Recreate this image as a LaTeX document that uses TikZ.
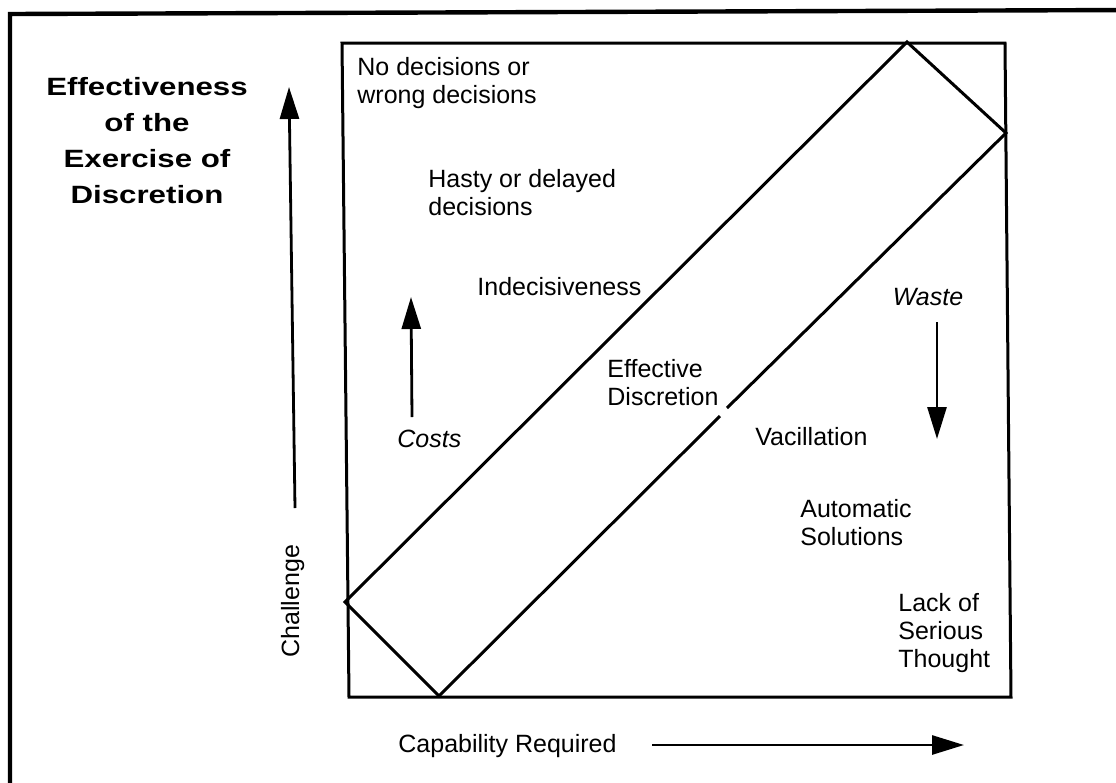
\documentclass[tikz,border=0pt]{standalone}
\usepackage{fontspec}
\setmainfont{Liberation Sans}
\newfontfamily\headfont{Liberation Sans}[FakeStretch=1.25]
\usetikzlibrary{arrows.meta}

\tikzset{
  frameline/.style={line width=2.2pt, line join=miter},
  boxline/.style={line width=1.5pt, line join=miter},
  pointer/.style={line width=1.4pt, -{Triangle[length=16pt,width=9.5pt]}},
  lbl/.style={inner sep=0pt, anchor=base west, align=left,
    font=\fontsize{12.5pt}{14pt}\selectfont},
  ilbl/.style={lbl, font=\fontsize{12.5pt}{14pt}\selectfont\itshape},
  headlbl/.style={inner sep=0pt, anchor=base, align=center,
    font=\headfont\bfseries\fontsize{12.5pt}{18pt}\selectfont}
}

\begin{document}
\begin{tikzpicture}[x=0.5pt, y=-0.5pt]
  \clip (0,0) rectangle (1116,783);

  % outer frame (runs off the right and bottom edges)
  \draw[frameline] (10,800) -- (10,14) -- (1130,10);

  % chart square
  \coordinate (sqTL) at (342,43);
  \coordinate (sqTR) at (1005,43);
  \coordinate (sqBR) at (1011,697);
  \coordinate (sqBL) at (349,697);
  \draw[boxline] (sqTL) -- (sqTR) -- (sqBR) -- (sqBL) -- cycle;

  % diagonal band of effective discretion
  \coordinate (bL) at (345,602);
  \coordinate (bT) at (907,42);
  \coordinate (bR) at (1006,133);
  \coordinate (bB) at (439,696);
  \coordinate (gapA) at (727,408);
  \coordinate (gapB) at (720,416);
  \draw[boxline] (gapA) -- (bR) -- (bT) -- (bL) -- (bB) -- (gapB);

  % heading (anchored at the baseline of its last line)
  \node[headlbl] (head) at (147,203) {Effectiveness\\of the\\Exercise of\\Discretion};

  % axes
  \coordinate (yaxS) at (295,508);
  \coordinate (yaxE) at (289,87);
  \draw[pointer] (yaxS) -- (yaxE);
  \node[lbl, rotate=90] (chal) at (299,658) {Challenge};

  \node[lbl] (capreq) at (398,752) {Capability Required};
  \coordinate (xaxS) at (652,745);
  \coordinate (xaxE) at (964,745);
  \draw[pointer] (xaxS) -- (xaxE);

  % region labels (anchored at the baseline of their last line)
  \node[lbl] (nodec) at (357,103) {No decisions or\\wrong decisions};
  \node[lbl] (hasty) at (428,215) {Hasty or delayed\\decisions};
  \node[lbl] (indec) at (477,295) {Indecisiveness};
  \node[lbl] (effd) at (607,405) {Effective\\Discretion};
  \node[lbl] (vacil) at (755,445) {Vacillation};
  \node[lbl] (auto) at (800,545) {Automatic\\Solutions};
  \node[lbl] (lack) at (898,667) {Lack of\\Serious\\Thought};

  % costs and waste
  \coordinate (costS) at (412,417);
  \coordinate (costE) at (411,297);
  \draw[pointer] (costS) -- (costE);
  \node[ilbl] (costs) at (397,447) {Costs};

  \node[ilbl, anchor=base] (waste) at (928,305) {Waste};
  \coordinate (wasteS) at (937,322);
  \coordinate (wasteE) at (937,439);
  \draw[pointer] (wasteS) -- (wasteE);
\end{tikzpicture}
\end{document}
